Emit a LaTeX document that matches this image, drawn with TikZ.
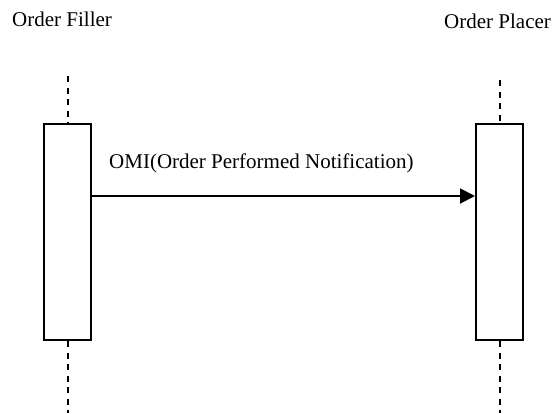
\documentclass[tikz,border=0pt]{standalone}
\usepackage{fontspec}
\setmainfont{Liberation Serif}
\usetikzlibrary{arrows.meta}
\begin{document}
\begin{tikzpicture}[x=1pt,y=-1pt,
  lbl/.style={font=\fontsize{21}{25}\selectfont, inner sep=0pt, anchor=base west},
  actbox/.style={draw, line width=2pt, minimum width=47pt, minimum height=216pt, inner sep=0pt},
  lifeline/.style={line width=2pt, dash pattern=on 6pt off 5.5pt},
  msg/.style={line width=2pt, -{Triangle[length=15pt,width=15pt]}}]
  \useasboundingbox (0,0) rectangle (552,413);
  % participant names
  \node[lbl] (fillername) at (12,26) {Order Filler};
  \node[lbl] (placername) at (444,28.5) {Order Placer};
  % activation boxes
  \node[actbox] (filler) at (67.7,232) {};
  \node[actbox] (placer) at (499.5,232) {};
  % lifeline ends
  \coordinate (fillertop) at (67.7,76);
  \coordinate (fillerbot) at (67.7,413);
  \coordinate (placertop) at (499.5,80);
  \coordinate (placerbot) at (499.5,413);
  \draw[lifeline] (fillertop) -- (filler.north);
  \draw[lifeline] (filler.south) -- (fillerbot);
  \draw[lifeline] (placertop) -- (placer.north);
  \draw[lifeline] (placer.south) -- (placerbot);
  % message
  \draw[msg] (filler.east |- 0,196) -- (placer.west |- 0,196)
    node[lbl, pos=0, xshift=16pt, yshift=28pt] (omi) {OMI(Order Performed Notification)};
\end{tikzpicture}
\end{document}
